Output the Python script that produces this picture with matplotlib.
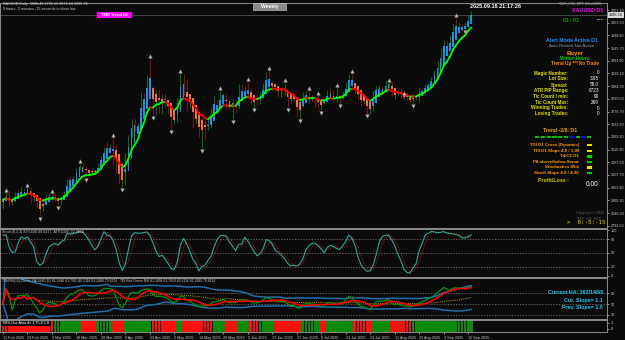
import numpy as np
import pandas as pd
import matplotlib
matplotlib.use("Agg")
import matplotlib.pyplot as plt
from matplotlib.collections import LineCollection
from matplotlib.patches import Rectangle

plt.rcParams['font.family'] = ['Liberation Sans', 'DejaVu Sans']

# ---------------- data (XAUUSD daily, 12 Feb 2025 .. 16 Sep 2025) ----------------
first_open = 2898.0
close = [
    2903, 2928, 2882, 2898, 2935, 2933, 2939, 2936, 2951, 2915, 2916, 2876, 2858,
    2893, 2918, 2920, 2911, 2910, 2889, 2916, 2934, 2988, 2984, 3001, 3034, 3048, 3043, 3023, 3011, 3020, 3019, 3058, 3084, 3123,
    3113, 3134, 3113, 3037, 2982, 2982, 3082, 3175, 3237, 3210, 3229, 3343, 3327, 3424, 3381, 3288, 3349, 3319, 3345, 3317, 3288,
    3239, 3240, 3334, 3431, 3365, 3306, 3325, 3235, 3248, 3177, 3240, 3203, 3230, 3289, 3314, 3295, 3357, 3342, 3301, 3288, 3318, 3289,
    3381, 3353, 3373, 3352, 3310, 3325, 3322, 3354, 3387, 3432, 3385, 3388, 3370, 3368, 3368, 3368, 3323, 3332, 3327, 3274, 3303,
    3338, 3357, 3326, 3337, 3336, 3302, 3313, 3324, 3355, 3343, 3324, 3347, 3338, 3350, 3396, 3432, 3387, 3368, 3336, 3314, 3326, 3275, 3289,
    3363, 3373, 3380, 3369, 3397, 3398, 3342, 3348, 3356, 3335, 3336, 3332, 3316, 3348, 3339, 3371, 3365, 3393, 3397, 3416, 3448,
    3476, 3533, 3578, 3545, 3586, 3636, 3626, 3641, 3634, 3643, 3679, 3686]
high = [
    2908, 2935, 2942, 2905, 2936, 2947, 2955, 2954, 2956, 2956, 2926, 2923, 2880,
    2896, 2928, 2930, 2930, 2930, 2915, 2920, 2940, 2990, 3004, 3004, 3038, 3055, 3057, 3047, 3033, 3036, 3033, 3060, 3087, 3128,
    3149, 3139, 3167, 3136, 3055, 3018, 3100, 3177, 3245, 3245, 3230, 3358, 3357, 3430, 3500, 3386, 3367, 3371, 3352, 3353, 3329,
    3290, 3269, 3336, 3437, 3435, 3414, 3348, 3326, 3265, 3252, 3250, 3252, 3250, 3295, 3345, 3326, 3365, 3357, 3350, 3325, 3330, 3326,
    3392, 3392, 3385, 3403, 3375, 3338, 3350, 3360, 3398, 3446, 3452, 3404, 3398, 3378, 3372, 3398, 3370, 3348, 3350, 3328, 3308,
    3358, 3365, 3366, 3345, 3343, 3345, 3317, 3330, 3369, 3375, 3366, 3377, 3352, 3361, 3402, 3433, 3439, 3393, 3373, 3345, 3330, 3334, 3315,
    3363, 3385, 3390, 3385, 3409, 3400, 3404, 3358, 3370, 3375, 3346, 3358, 3346, 3350, 3352, 3379, 3376, 3394, 3398, 3423, 3454,
    3489, 3540, 3579, 3580, 3600, 3646, 3674, 3655, 3646, 3656, 3685, 3701]
low = [
    2864, 2896, 2876, 2880, 2893, 2914, 2919, 2918, 2931, 2890, 2897, 2872, 2832,
    2857, 2882, 2894, 2896, 2898, 2880, 2880, 2906, 2932, 2978, 2981, 2999, 3028, 3025, 2999, 3000, 3006, 3010, 3015, 3055, 3076,
    3100, 3105, 3054, 3015, 2970, 2956, 2970, 3072, 3170, 3193, 3195, 3229, 3284, 3325, 3366, 3260, 3260, 3268, 3266, 3299, 3268,
    3202, 3223, 3232, 3324, 3345, 3275, 3290, 3207, 3229, 3170, 3120, 3154, 3200, 3205, 3285, 3278, 3287, 3324, 3286, 3285, 3245, 3271,
    3288, 3333, 3343, 3339, 3307, 3293, 3300, 3310, 3340, 3385, 3382, 3366, 3362, 3340, 3340, 3347, 3295, 3311, 3318, 3255, 3247,
    3297, 3328, 3311, 3322, 3296, 3287, 3282, 3310, 3320, 3341, 3320, 3319, 3310, 3330, 3345, 3383, 3381, 3351, 3325, 3301, 3308, 3268, 3268,
    3281, 3347, 3352, 3357, 3365, 3375, 3341, 3331, 3346, 3331, 3330, 3323, 3315, 3311, 3324, 3321, 3351, 3351, 3368, 3386, 3407,
    3436, 3471, 3525, 3511, 3543, 3584, 3620, 3620, 3613, 3625, 3633, 3675]

date_idx = [0, 8, 16, 24, 32, 40, 48, 56, 64, 72, 80, 88, 96, 104, 112, 120, 128, 136, 144, 152]
date_labels = ["12 Feb 2025", "24 Feb 2025", "6 Mar 2025", "18 Mar 2025", "28 Mar 2025", "9 Apr 2025",
               "22 Apr 2025", "2 May 2025", "14 May 2025", "26 May 2025", "5 Jun 2025", "17 Jun 2025",
               "27 Jun 2025", "9 Jul 2025", "21 Jul 2025", "31 Jul 2025", "12 Aug 2025", "22 Aug 2025",
               "3 Sep 2025", "15 Sep 2025"]
fractal_up = [1, 8, 16, 25, 36, 48, 58, 71, 80, 87, 92, 100, 103, 109, 114, 126, 131, 148]
fractal_dn = [12, 18, 27, 39, 49, 55, 65, 75, 82, 93, 97, 104, 110, 119, 134, 151]
# oscillator state runs read from the bottom strip: (state, number of bars)
osc_runs = [('r', 17), ('g', 9), ('r', 5), ('g', 5), ('r', 4), ('g', 9), ('r', 8), ('g', 2),
            ('r', 10), ('g', 4), ('r', 4), ('g', 4), ('r', 3), ('g', 5), ('r', 9), ('g', 6),
            ('r', 2), ('g', 9), ('r', 6), ('g', 6), ('r', 7), ('g', 20)]
price_ticks = [3707.10, 3653.30, 3599.50, 3545.70, 3491.90, 3438.10, 3384.30, 3330.50, 3276.70,
               3222.90, 3169.10, 3115.30, 3061.50, 3007.70, 2953.90, 2900.10, 2846.30, 2792.50]
last_price = 3685.74

# ---------------- figure setup ----------------
W, H = 625, 340
BG = '#0b0b0b'
SP = '#8c8c8c'
TXT = '#c8c8c8'
fig = plt.figure(figsize=(W / 100, H / 100), dpi=100, facecolor=BG)

n = len(close)
x = np.arange(n)
c = np.array(close, float)
h = np.array(high, float)
l = np.array(low, float)
o = np.array([first_open] + close[:-1], float)
XL = (-3 / 3.06, (607 - 3) / 3.06)


def rect(y0, y1, x0=0, x1=607):
    return [x0 / W, 1 - y1 / H, (x1 - x0) / W, (y1 - y0) / H]


def style(ax):
    ax.set_facecolor(BG)
    for s in ax.spines.values():
        s.set_color(SP)
        s.set_linewidth(0.7)
    ax.tick_params(axis='x', bottom=False, labelbottom=False)
    ax.yaxis.tick_right()
    ax.tick_params(axis='y', colors=TXT, labelsize=2.7, length=1.5, width=0.5, pad=1)
    ax.set_xlim(*XL)


def T(xp, yp, s, color='white', size=3.4, ha='left', weight='normal', family=None, **kw):
    kw2 = {}
    if family is not None:
        kw2['family'] = family
    fig.text(xp / W, 1 - yp / H, s, color=color, fontsize=size, ha=ha, va='center',
             fontweight=weight, **kw2, **kw)


def R(x0, y0, w, hh, color, ec=None, lw=0):
    fig.add_artist(Rectangle((x0 / W, 1 - (y0 + hh) / H), w / W, hh / H, transform=fig.transFigure,
                             facecolor=color, edgecolor=ec if ec else color, linewidth=lw, zorder=2))


# ---------------- main price panel ----------------
ax = fig.add_axes(rect(3, 228))
style(ax)
ax.set_ylim(3686 - 213 * 4.24, 3686 + 12 * 4.24)
ax.set_yticks(price_ticks)
ax.set_yticklabels([f"{v:.2f}" for v in price_ticks])

ax.axhline(last_price, color='#5e5e5e', lw=0.5, zorder=1)

real_up = c >= o
ax.vlines(x, l, h, colors=np.where(real_up, '#0b8f0b', '#a01515'), lw=0.55, zorder=2)
ha_c = (o + h + l + c) / 4
ha_o = np.empty(n)
ha_o[0] = (o[0] + c[0]) / 2
for i in range(1, n):
    ha_o[i] = (ha_o[i - 1] + ha_c[i - 1]) / 2
bot = np.minimum(ha_o, ha_c)
hgt = np.maximum(np.abs(ha_c - ha_o), 3.5)
ax.bar(x, hgt, bottom=bot, width=0.6, color=np.where(ha_c >= ha_o, '#1e8fe6', '#f46e45'),
       lw=0, zorder=3)

ema = pd.Series(c).ewm(span=8, adjust=False).mean().values
segs = [[(x[i - 1], ema[i - 1]), (x[i], ema[i])] for i in range(1, n)]
cols = ['#00ff00' if ema[i] >= ema[i - 1] else '#ff0000' for i in range(1, n)]
ax.add_collection(LineCollection(segs, colors=cols, linewidths=1.3, capstyle='round', zorder=4))

fu = np.array(fractal_up)
fd = np.array(fractal_dn)
ax.plot(fu, h[fu] + 11, '^', ms=2.6, color='#bdbdbd', mec='#8a8a8a', mew=0.3, zorder=5, ls='none')
ax.plot(fd, l[fd] - 11, 'v', ms=2.6, color='#bdbdbd', mec='#8a8a8a', mew=0.3, zorder=5, ls='none')

ax.text(1.003, last_price, f"{last_price:.2f}", transform=ax.get_yaxis_transform(), fontsize=2.7,
        color='black', va='center', ha='left',
        bbox=dict(boxstyle='square,pad=0.25', fc='#d8d8d8', ec='#d8d8d8', lw=0), zorder=6, clip_on=False)

# ---------------- stochastic panel ----------------
sh, sl, sc = pd.Series(h), pd.Series(l), pd.Series(c)
ll = sl.rolling(8, min_periods=1).min()
hh8 = sh.rolling(8, min_periods=1).max()
K = 100 * (sc - ll).rolling(3, min_periods=1).sum() / (hh8 - ll).rolling(3, min_periods=1).sum()
D = K.rolling(3, min_periods=1).mean()

ax2 = fig.add_axes(rect(229, 277))
style(ax2)
ax2.set_ylim(-2.2, 102.2)
ax2.set_yticks([100, 80, 50, 20, 0])
ax2.set_yticklabels(['100', '80', '50', '20', '0'])
for lv in (80, 50, 20):
    ax2.axhline(lv, color='#7a7a7a', lw=0.5, ls=(0, (2, 2)))
ax2.plot(x, D.values, color='#d01010', lw=0.7, ls=(0, (1, 1.2)))
ax2.plot(x, K.values, color='#2aa89c', lw=0.8)
ax2.text(0.004, 0.93, "Stoch(8,3,3) 89.5646 89.6477  ATR(100) 32.9659", transform=ax2.transAxes,
         fontsize=2.7, color=TXT, va='center')

# ---------------- TDI panel ----------------
delta = sc.diff().fillna(0)
ag = delta.clip(lower=0).ewm(alpha=1 / 13, adjust=True).mean()
al = (-delta.clip(upper=0)).ewm(alpha=1 / 13, adjust=True).mean()
rsi = (100 - 100 / (1 + ag / al)).fillna(50)
pline = rsi.rolling(2, min_periods=1).mean()
sig = rsi.rolling(7, min_periods=1).mean()
mid = rsi.rolling(34, min_periods=1).mean()
sd = rsi.rolling(34, min_periods=2).std(ddof=0).fillna(0)
bup = mid + 1.6185 * sd
bdn = mid - 1.6185 * sd

ax3 = fig.add_axes(rect(278, 319))
style(ax3)
ax3.set_ylim(25.1, 93.5)
ax3.set_yticks([68, 50, 32])
ax3.set_yticklabels(['68', '50', '32'])
for lv in (68, 50, 32):
    ax3.axhline(lv, color='#7a7a7a', lw=0.5, ls=(0, (2, 2)))
ax3.plot(x, bup.values, color='#1f6fa8', lw=1.1)
ax3.plot(x, bdn.values, color='#1f6fa8', lw=1.1)
ax3.plot(x, mid.values, color='#b8a400', lw=0.7, ls=(0, (1, 1.2)))
ax3.plot(x, pline.values, color='#0a900a', lw=0.9)
ax3.plot(x, sig.values, color='#ff0000', lw=1.1)
ax3.text(0.004, 0.93, "TDI(RSI(13),Close) XAUUSD,D1 81.1896 61.7910 40.2116 81.2489 79.8224   "
         "TDI Red Green RSI 81.1896 61.7910 40.2116 81.2489 79.8224",
         transform=ax3.transAxes, fontsize=2.4, color=TXT, va='center')

# ---------------- oscillator histogram ----------------
ax4 = fig.add_axes(rect(320, 332))
style(ax4)
ax4.set_ylim(0, 1)
ax4.set_yticks([0.75, 0.25])
ax4.set_yticklabels(['1', '0'])
osc_state = [s for s, k in osc_runs for _ in range(k)]
hist_col = ['#0a8a0a' if s == 'g' else '#ff1010' for s in osc_state]
ax4.bar(np.arange(len(osc_state)), np.ones(len(osc_state)), bottom=0, width=0.92, color=hist_col, lw=0)
ax4.text(0.004, 0.72, "TMS-Osc Ama 4s 1 75.8 1.0", transform=ax4.transAxes, fontsize=2.7,
         color='white', va='center', zorder=5,
         bbox=dict(boxstyle='square,pad=0.1', fc='#101010', ec='none'))
ax4.tick_params(axis='x', bottom=True, labelbottom=True, colors=TXT, labelsize=2.7,
                length=1.5, width=0.5, pad=1.2)
ax4.set_xticks(date_idx)
ax4.set_xticklabels(date_labels)
for lb in ax4.get_xticklabels():
    lb.set_ha('left')

# ---------------- header texts ----------------
T(3, 4, "XAUUSD,Daily  3686.49 3701.13 3674.64 3685.74", color='#d0d0d0', size=2.7)
T(3, 9, "9 hours -3 minutes -15 seconds to close bar", color='#d0d0d0', size=2.7)
R(253, 3, 33, 6.5, '#8a8a8a', ec='#d0d0d0', lw=0.4)
T(269.5, 6.3, "Weekly", color='white', size=3.6, ha='center', weight='bold')
R(97, 12, 35, 5.5, '#ff00ff')
T(114.5, 14.8, "TMS Trend £8", color='white', size=3.0, ha='center', weight='bold')
T(496, 6, "2025.09.16 21:17:26", color='white', size=4.0, ha='center', weight='bold')
T(580, 4, "TMS_V35_MTF (Dec2020)", color='#a8a8a8', size=2.6, ha='center')
T(588, 10.5, "XAUUSD D1", color='#ff00ff', size=3.9, ha='center', weight='bold')
T(571.5, 21, "01:01", color='#00c000', size=4.2, ha='center', family='DejaVu Sans Mono')
T(600, 18.5, ".....", color='#e0e000', size=4.0, ha='center', weight='bold')

# ---------------- dashboard ----------------
T(572, 40, "Alert Mode Active D1", color='#1e90ff', size=3.7, ha='center', weight='bold')
T(572, 46, "Auto Restart Not Active", color='#9a9a9a', size=3.2, ha='center')
T(575, 53, "Buyer", color='#ff8c00', size=4.3, ha='center', weight='bold')
T(575, 58.5, "Within Hours", color='#00c800', size=3.3, ha='center', weight='bold')
T(575, 64, "Trend Up *** No Trade", color='#ff8c00', size=3.3, ha='center', weight='bold')

lab = ["Magic Number:", "Lot Size:", "Spread:", "ATR PIP Range:", "Tic Count / min:",
       "Tic Count Max:", "Winning Trades:", "Losing Trades:"]
val = ["0", "3.95", "58.0", "6723", "90", "269", "0", "0"]
ys = [73, 79, 85, 91, 97, 102.5, 108, 114]
for s, v, yy in zip(lab, val, ys):
    T(568, yy, s, color='#e0e000', size=3.3, ha='right', weight='bold')
    T(599, yy, v, color='white', size=3.3, ha='right')

T(560, 131, "Trend -2/8- D1", color='#f0a000', size=3.7, ha='center', weight='bold')
sq = ['#00c000'] * 6 + ['#1010ff', '#00c000', '#1010ff', '#00c000']
for i, col in enumerate(sq):
    R(535 + i * 5.8, 136, 4.2, 2.2, col)

olab = ["TDI D1 Cross (Dynamic)", "TDI D1 Slope 4.0 / 1.00", "TdiC1 D1", "PA above/below Senar",
        "Stochastics 89.k", "Stoch Slope 4.0 / 4.20"]
ocol = ['#f0e000', '#f0e000', '#00d000', '#00d000', '#f0e000', '#00d000']
oys = [145, 151, 156.5, 162, 167.5, 173]
for s, colr, yy in zip(olab, ocol, oys):
    T(579, yy, s, color='#ff9900', size=3.2, ha='right', weight='bold')
    R(587, yy - 1.1, 4.5, 2.2, colr)

T(553, 181, "Profit/Loss :", color='#c8c800', size=3.8, ha='center', weight='bold')
T(592, 184, "0.00", color='white', size=4.8, ha='center')
T(590, 213, "Copyright \u00a9 2020", color='#5a5a5a', size=2.6, ha='center')
T(590, 218, "TMS_V35_MTF", color='#5a5a5a', size=2.6, ha='center')
T(586, 223, ">  0:-5:-15", color='#e0e000', size=4.2, ha='center', family='DejaVu Sans Mono')

# ---------------- TDI right texts ----------------
T(603, 292.5, "Current HA: 362/148/0", color='#1ec8f0', size=3.8, ha='right', weight='bold')
T(603, 300.5, "Cur. Slope= 1.1", color='#1ec8f0', size=3.8, ha='right', weight='bold')
T(603, 308, "Prev. Slope= 1.8", color='#1ec8f0', size=3.8, ha='right', weight='bold')

fig.savefig("out.png", dpi=100, facecolor=BG)
